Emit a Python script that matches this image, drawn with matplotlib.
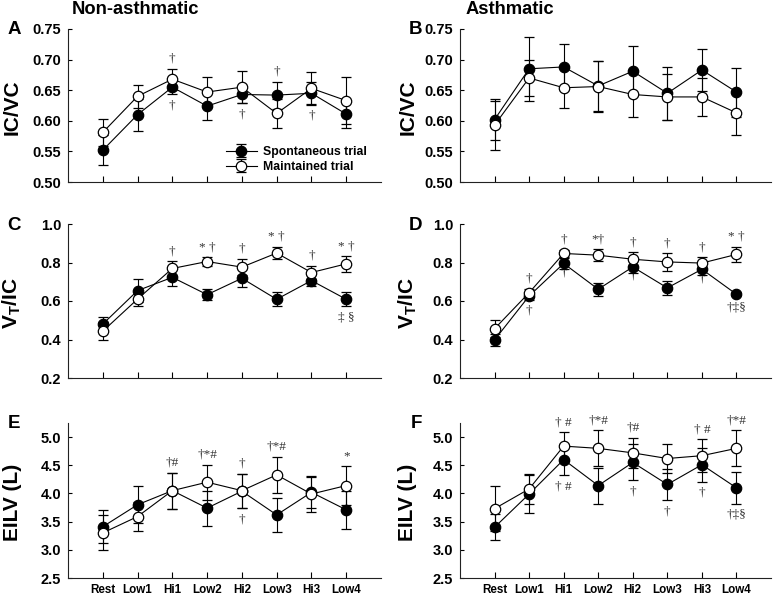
import matplotlib
matplotlib.use("Agg")
import matplotlib.pyplot as plt
import matplotlib.transforms as mtransforms

plt.rcParams['font.family'] = 'Liberation Sans'
plt.rcParams['font.weight'] = 'bold'
plt.rcParams['mathtext.fontset'] = 'custom'
plt.rcParams['mathtext.bf'] = 'Liberation Sans:bold'
plt.rcParams['mathtext.rm'] = 'Liberation Sans:bold'

stages = ['Rest', 'Low1', 'Hi1', 'Low2', 'Hi2', 'Low3', 'Hi3', 'Low4']

# IC/VC, non-asthmatic
a_spont = [0.552, 0.610, 0.655, 0.624, 0.643, 0.642, 0.645, 0.611]
a_spont_se = [0.025, 0.026, 0.012, 0.023, 0.014, 0.022, 0.019, 0.023]
a_maint = [0.581, 0.640, 0.668, 0.647, 0.655, 0.612, 0.653, 0.633]
a_maint_se = [0.022, 0.019, 0.017, 0.025, 0.026, 0.024, 0.026, 0.038]

# IC/VC, asthmatic
b_spont = [0.602, 0.685, 0.688, 0.657, 0.681, 0.645, 0.683, 0.647]
b_spont_se = [0.033, 0.052, 0.038, 0.041, 0.041, 0.043, 0.035, 0.040]
b_maint = [0.593, 0.670, 0.654, 0.656, 0.643, 0.639, 0.639, 0.613]
b_maint_se = [0.040, 0.030, 0.033, 0.042, 0.037, 0.038, 0.031, 0.036]

# VT/IC, non-asthmatic
c_spont = [0.480, 0.654, 0.723, 0.633, 0.718, 0.609, 0.706, 0.609]
c_spont_se = [0.035, 0.060, 0.043, 0.030, 0.047, 0.036, 0.030, 0.036]
c_maint = [0.443, 0.610, 0.769, 0.805, 0.776, 0.849, 0.748, 0.793]
c_maint_se = [0.047, 0.035, 0.038, 0.023, 0.043, 0.033, 0.035, 0.040]

# VT/IC, asthmatic
d_spont = [0.398, 0.626, 0.795, 0.661, 0.777, 0.668, 0.765, 0.635]
d_spont_se = [0.033, 0.020, 0.030, 0.035, 0.030, 0.035, 0.030, 0.010]
d_maint = [0.456, 0.643, 0.847, 0.838, 0.817, 0.803, 0.797, 0.842]
d_maint_se = [0.043, 0.020, 0.020, 0.032, 0.035, 0.045, 0.030, 0.040]

# EILV, non-asthmatic
e_spont = [3.41, 3.80, 4.05, 3.74, 4.04, 3.62, 4.02, 3.71]
e_spont_se = [0.29, 0.33, 0.32, 0.31, 0.30, 0.30, 0.28, 0.34]
e_maint = [3.30, 3.59, 4.05, 4.20, 4.05, 4.33, 3.99, 4.14]
e_maint_se = [0.31, 0.26, 0.32, 0.31, 0.30, 0.32, 0.32, 0.35]

# EILV, asthmatic
f_spont = [3.40, 3.99, 4.60, 4.14, 4.55, 4.16, 4.51, 4.10]
f_spont_se = [0.23, 0.33, 0.28, 0.32, 0.32, 0.28, 0.30, 0.28]
f_maint = [3.73, 4.08, 4.84, 4.80, 4.72, 4.62, 4.67, 4.80]
f_maint_se = [0.40, 0.26, 0.25, 0.32, 0.27, 0.25, 0.29, 0.32]

# significance marks: (stage index, text, above/below)
a_marks = [(2, '†', 'above'), (2, '†', 'below'), (4, '†', 'below'),
           (5, '†', 'above'), (6, '†', 'below')]
b_marks = []
c_marks = [(2, '†', 'above'), (3, '* †', 'above'), (4, '†', 'above'),
           (5, '* †', 'above'), (6, '†', 'above'), (7, '* †', 'above'),
           (7, '‡ §', 'below')]
d_marks = [(1, '†', 'above'), (1, '†', 'below'), (2, '†', 'above'),
           (2, '†', 'hidden'), (3, '*†', 'above'), (4, '†', 'above'),
           (4, '†', 'hidden'), (5, '†', 'above'), (6, '†', 'above'),
           (6, '†', 'hidden'), (7, '* †', 'above'), (7, '†‡§', 'below')]
e_marks = [(2, '†#', 'above'), (3, '†*#', 'above'), (4, '†', 'above'),
           (4, '†', 'below'), (5, '†*#', 'above'), (7, '*', 'above')]
f_marks = [(2, '† #', 'above'), (2, '† #', 'below'), (3, '†*#', 'above'),
           (4, '†#', 'above'), (4, '†', 'below'), (5, '†', 'below'),
           (6, '† #', 'above'), (6, '†', 'below'), (7, '†*#', 'above'),
           (7, '†‡§', 'below')]

fig = plt.figure(figsize=(7.77, 5.95), dpi=100)
W, H = 777, 595

def px_axes(l, t, r, b):
    return fig.add_axes([l / W, 1 - b / H, (r - l) / W, (b - t) / H])

panels = [
    ('A', (68, 29, 381, 182), a_spont, a_spont_se, a_maint, a_maint_se, a_marks,
     (0.5, 0.75), [0.50, 0.55, 0.60, 0.65, 0.70, 0.75], '{:.2f}', 'IC/VC', False),
    ('B', (460, 29, 771, 182), b_spont, b_spont_se, b_maint, b_maint_se, b_marks,
     (0.5, 0.75), [0.50, 0.55, 0.60, 0.65, 0.70, 0.75], '{:.2f}', 'IC/VC', False),
    ('C', (68, 224, 381, 378), c_spont, c_spont_se, c_maint, c_maint_se, c_marks,
     (0.2, 1.0), [0.2, 0.4, 0.6, 0.8, 1.0], '{:.1f}', r'V$_\mathbf{T}$/IC', False),
    ('D', (460, 224, 771, 378), d_spont, d_spont_se, d_maint, d_maint_se, d_marks,
     (0.2, 1.0), [0.2, 0.4, 0.6, 0.8, 1.0], '{:.1f}', r'V$_\mathbf{T}$/IC', False),
    ('E', (68, 423, 381, 578), e_spont, e_spont_se, e_maint, e_maint_se, e_marks,
     (2.5, 5.25), [2.5, 3.0, 3.5, 4.0, 4.5, 5.0], '{:.1f}', 'EILV (L)', True),
    ('F', (460, 423, 771, 578), f_spont, f_spont_se, f_maint, f_maint_se, f_marks,
     (2.5, 5.25), [2.5, 3.0, 3.5, 4.0, 4.5, 5.0], '{:.1f}', 'EILV (L)', True),
]

x = list(range(1, len(stages) + 1))
mark_font = dict(family='Liberation Serif', fontsize=9.5, color='#333333',
                 fontweight='normal', ha='center', va='center')

for letter, box, sp, sp_se, mt, mt_se, marks, ylim, yt, fmt, ylab, xlab in panels:
    ax = px_axes(*box)
    common = dict(fmt='-o', color='black', mec='black', ms=7.5, lw=0.8,
                  elinewidth=0.8, capsize=3.6, capthick=0.8, mew=0.9)
    ax.errorbar(x, sp, yerr=sp_se, mfc='black', label='Spontaneous trial',
                zorder=3, **common)
    ax.errorbar(x, mt, yerr=mt_se, mfc='white', label='Maintained trial',
                zorder=4, **common)
    ax.set_xlim(0, 9)
    ax.set_ylim(*ylim)
    ax.set_yticks(yt)
    ax.set_yticklabels([fmt.format(v) for v in yt], fontsize=10.5, fontweight='bold')
    ax.set_xticks(x)
    if xlab:
        ax.set_xticklabels(stages, fontsize=8.4, fontweight='bold')
    else:
        ax.set_xticklabels([])
    ax.tick_params(axis='y', direction='in', length=3, width=0.8, pad=5)
    ax.tick_params(axis='x', direction='in', length=4, width=0.8, pad=4)
    for s in ['top', 'right']:
        ax.spines[s].set_visible(False)
    for s in ['left', 'bottom']:
        ax.spines[s].set_linewidth(0.8)
        ax.spines[s].set_color('#222222')

    for i, txt, side in marks:
        top = max(sp[i] + sp_se[i], mt[i] + mt_se[i])
        bot = min(sp[i] - sp_se[i], mt[i] - mt_se[i])
        if side == 'above':
            y0, dy, z = top, 10, 5
        elif side == 'below':
            y0, dy, z = bot, -11, 5
        else:
            y0, dy, z = sp[i] - sp_se[i], -3, 2
        tr = ax.transData + mtransforms.ScaledTranslation(0, dy / 100, fig.dpi_scale_trans)
        ax.text(x[i], y0, txt, transform=tr, zorder=z, **mark_font)

    if letter == 'A':
        ax.legend(loc='center left', bbox_to_anchor=(0.505, 0.148), frameon=False,
                  handlelength=2.5, handletextpad=0.55,
                  labelspacing=0.25, borderpad=0, borderaxespad=0,
                  prop=dict(weight='bold', size=8.8))

    lx = 12 if box[0] < 400 else 408
    fig.text(lx / W, 1 - ((box[1] + box[3]) / 2 + 2) / H, ylab, rotation=90,
             ha='center', va='center', fontsize=15, fontweight='bold')
    px = 14 if box[0] < 400 else 416
    fig.text(px / W, 1 - (box[1] + 1) / H, letter, ha='center', va='center',
             fontsize=13.5, fontweight='bold')

fig.text(72 / W, 1 - 0.5 / H, 'Non-asthmatic', ha='left', va='top',
         fontsize=13.2, fontweight='bold')
fig.text(466 / W, 1 - 0.5 / H, 'Asthmatic', ha='left', va='top',
         fontsize=13.2, fontweight='bold')

fig.savefig('out.png', dpi=100)
